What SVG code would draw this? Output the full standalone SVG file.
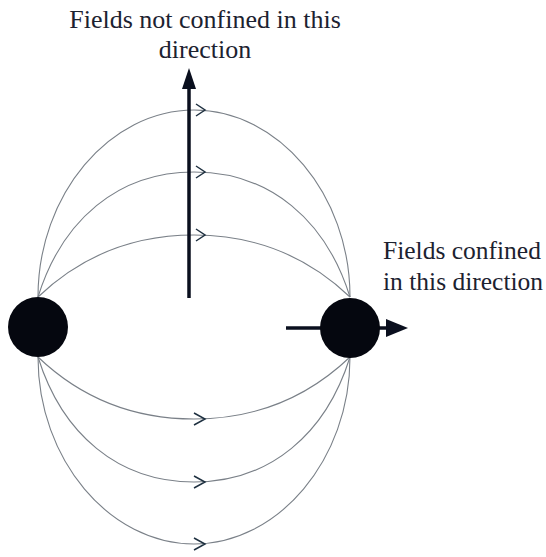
<svg xmlns="http://www.w3.org/2000/svg" width="546" height="557" viewBox="0 0 546 557">
<style>
  .lbl { font-family: "Liberation Serif", "Times New Roman", serif; font-size: 26px; fill: #1c2230; }
  .lbl2 { font-family: "Liberation Serif", "Times New Roman", serif; font-size: 25.5px; fill: #1c2230; }
  .field { fill: none; stroke: #7a8088; stroke-width: 1.1; }
  .chev { fill: none; stroke: #1e3040; stroke-width: 1.5; stroke-linejoin: miter; }
  .charge { fill: #05070f; }
  .thick { stroke: #0a0f1e; stroke-width: 3.5; fill: none; }
</style>
<rect width="546" height="557" fill="#ffffff"/>
<g id="connectors">
  <!-- upper field lines -->
  <path class="field" d="M38,297 C38,194 110,110 194,110 C278,110 350,194 350,297"/>
  <path class="field" d="M38,297 C62,220 118,172 194,172 C270,172 326,220 350,297"/>
  <path class="field" d="M38,297 C82,255 136,235 194,235 C252,235 306,255 350,297"/>
  <!-- lower field lines -->
  <path class="field" d="M38,357 C38,460 110,544 194,544 C278,544 350,460 350,357"/>
  <path class="field" d="M38,357 C62,434 118,482 194,482 C270,482 326,434 350,357"/>
  <path class="field" d="M38,357 C82,399 136,419 194,419 C252,419 306,399 350,357"/>
  <!-- chevron arrowheads -->
  <path class="chev" d="M196,104 L205,110 L196,116"/>
  <path class="chev" d="M196,166 L205,172 L196,178"/>
  <path class="chev" d="M196,229 L205,235 L196,241"/>
  <path class="chev" d="M194,413 L205,419 L194,425"/>
  <path class="chev" d="M194,476 L205,482 L194,488"/>
  <path class="chev" d="M194,538 L205,544 L194,550"/>
  <!-- vertical direction arrow -->
  <line class="thick" x1="189" y1="298" x2="189" y2="88"/>
  <path d="M189,68 L196,89 L182,89 z" fill="#0a0f1e"/>
  <!-- horizontal direction arrow -->
  <line class="thick" x1="286" y1="328" x2="390" y2="328"/>
  <path d="M408,328 L386,319 L386,337 z" fill="#0a0f1e"/>
</g>
<g id="charge-left">
  <circle class="charge" cx="38" cy="327" r="30"/>
</g>
<g id="charge-right">
  <circle class="charge" cx="350" cy="328" r="30"/>
</g>
<g id="label-top">
  <text class="lbl" x="205" y="28" text-anchor="middle">Fields not confined in this</text>
  <text class="lbl" x="205" y="58" text-anchor="middle">direction</text>
</g>
<g id="label-right">
  <text class="lbl2" x="383" y="259">Fields confined</text>
  <text class="lbl2" x="383" y="290">in this direction</text>
</g>
</svg>
